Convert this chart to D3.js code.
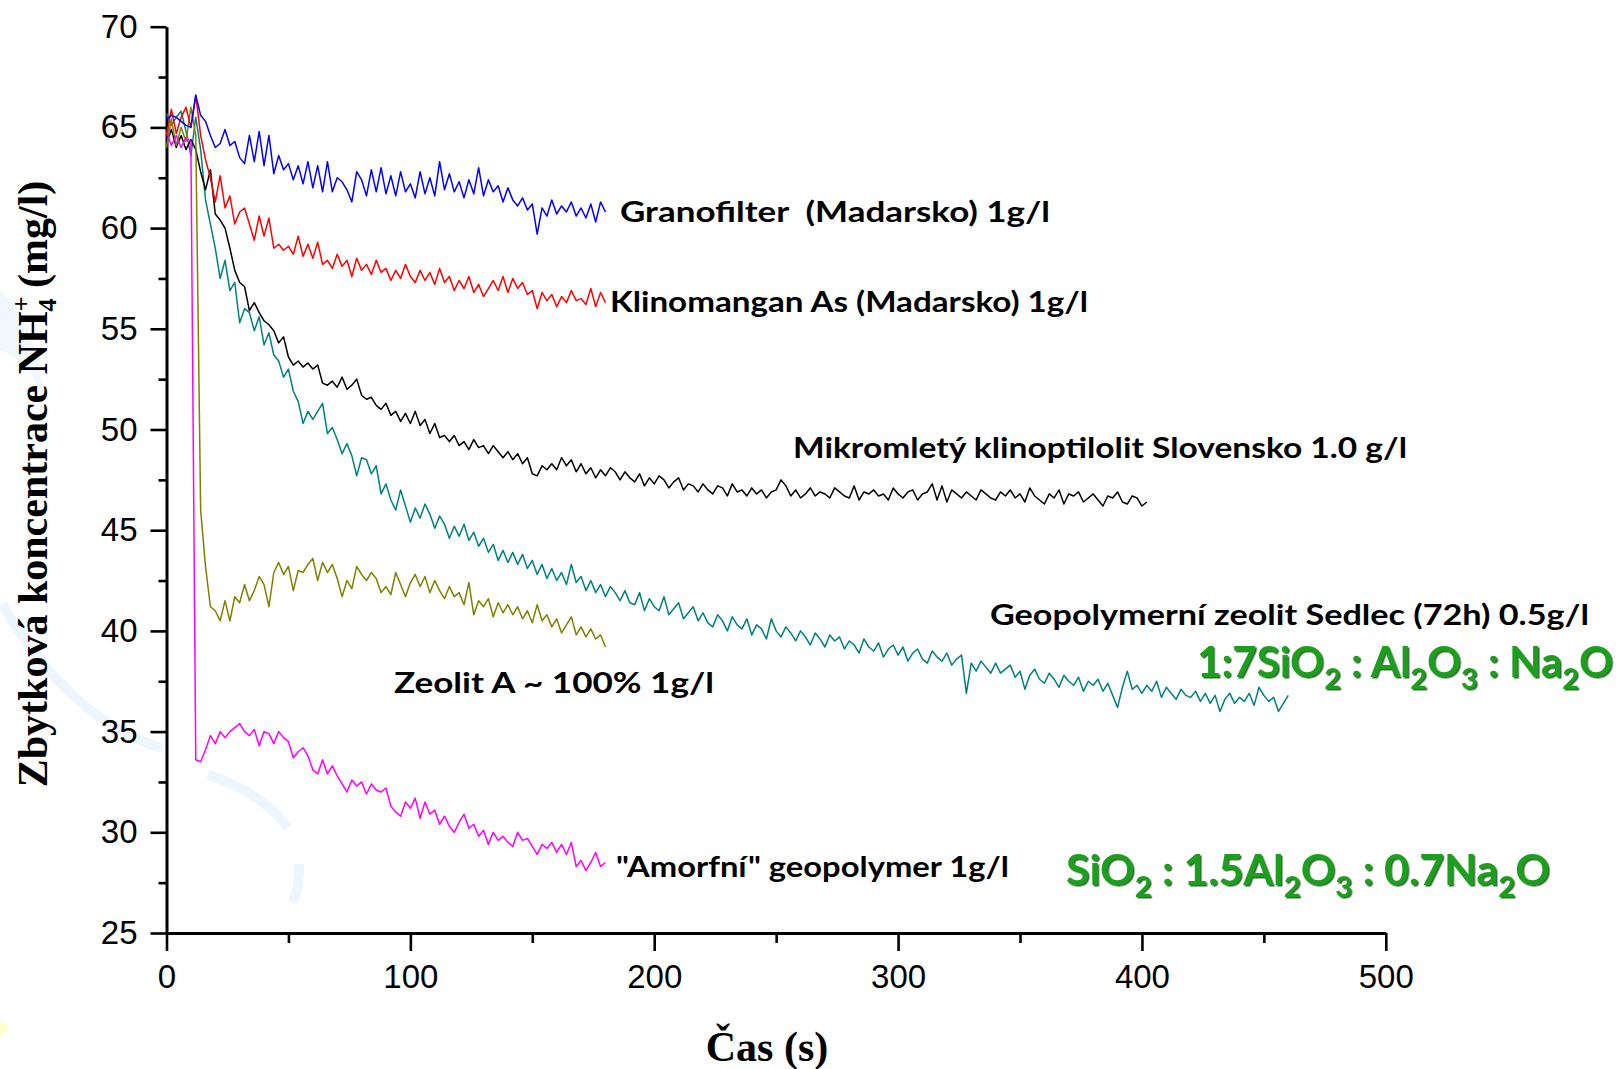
<!DOCTYPE html>
<html><head><meta charset="utf-8">
<script src="https://cdn.jsdelivr.net/npm/d3@7"></script>
<style>html,body{margin:0;padding:0;background:#fff;} svg{display:block}</style>
</head><body>
<svg id="chart" width="1623" height="1069"></svg>
<script>
// ---- data (time step 2 s) ----
const TIME_STEP = 2;
const granofilter = [
65.4,65.6,65.5,65.3,65.1,65.0,66.6,65.6,65.3,64.6,
64.0,64.2,64.9,64.1,64.3,63.5,63.2,64.6,63.3,64.8,
63.1,64.6,62.7,63.6,62.9,63.2,62.4,63.1,62.2,63.3,
62.0,63.1,61.8,63.3,61.8,62.5,62.3,61.9,61.3,62.8,
62.4,61.6,62.9,61.8,63.0,61.7,62.6,61.6,62.8,61.8,
62.2,61.5,62.8,61.7,62.5,61.6,63.3,61.9,62.7,61.8,
62.3,61.5,62.4,61.7,63.0,61.6,62.4,61.8,62.1,61.3,
62.0,61.4,61.1,61.5,60.9,61.2,59.7,61.0,60.6,61.4,
60.7,61.1,60.8,61.3,60.6,61.0,60.5,61.2,60.3,61.3,
60.8];
const klinomangan = [
64.6,65.9,64.7,65.5,66.0,65.0,66.6,64.6,63.4,62.5,
61.3,62.6,61.0,61.6,60.2,60.8,61.0,60.2,59.4,60.6,
59.6,60.5,59.0,59.2,58.9,59.1,58.7,59.6,58.6,59.2,
58.5,59.3,58.2,58.4,58.0,58.7,58.1,58.4,57.6,58.5,
57.9,58.2,57.7,58.4,57.8,58.0,57.4,57.9,57.5,58.2,
57.6,57.3,57.9,57.4,57.8,57.2,58.0,57.3,57.6,56.9,
57.4,57.0,57.6,56.8,57.2,56.6,57.0,57.4,56.9,57.6,
56.8,57.5,57.0,57.3,56.7,56.9,56.0,56.8,56.4,56.7,
56.1,56.6,56.3,56.9,56.4,56.5,56.2,57.0,56.1,56.8,
56.3];
const mikromlety = [
64.2,64.9,64.0,64.6,63.9,64.4,63.9,62.8,61.9,62.9,
60.7,60.4,60.0,59.0,57.9,57.3,57.1,55.9,56.3,55.8,
55.4,55.2,54.9,54.3,54.6,53.6,53.2,53.4,53.1,53.3,
53.0,53.2,52.3,52.2,52.4,52.1,52.6,52.0,52.2,52.5,
51.7,51.5,51.6,51.2,51.0,51.3,50.7,50.9,50.4,50.8,
50.3,50.9,50.2,50.5,49.8,50.3,49.6,49.7,49.4,49.7,
49.2,49.4,49.0,49.5,49.1,49.2,48.8,49.2,48.9,48.6,
48.9,48.5,48.8,48.3,48.6,47.8,47.7,48.2,48.0,48.3,
48.0,48.6,48.2,48.5,47.9,48.3,47.8,48.1,47.6,48.0,
47.7,48.1,47.9,47.5,47.9,47.6,47.4,47.8,47.2,47.6,
47.3,47.7,47.5,47.1,47.4,47.6,47.0,47.3,47.2,46.9,
47.3,47.0,46.8,47.2,47.1,46.7,47.3,46.9,47.0,46.7,
47.1,46.8,47.0,46.6,46.9,47.0,47.5,47.2,46.7,47.0,
46.6,46.8,47.1,46.7,46.9,46.8,46.6,47.1,46.9,46.7,
46.6,47.2,46.5,46.9,46.8,47.0,46.7,46.8,46.5,47.1,
46.8,46.6,46.9,47.0,46.5,46.8,46.9,47.3,46.5,47.2,
46.4,47.0,46.8,46.6,46.9,46.7,46.5,47.0,46.8,46.6,
46.5,46.9,46.7,47.0,46.6,46.8,46.4,47.1,46.7,46.5,
46.3,46.8,46.6,47.0,46.3,46.8,46.7,46.9,46.4,46.6,
46.8,46.5,46.2,46.7,46.6,46.9,46.4,46.3,46.7,46.6,
46.2,46.4];
const sedlec = [
65.7,65.1,65.5,65.8,64.8,63.6,65.5,63.9,61.4,60.2,
59.0,57.5,58.4,56.9,57.3,55.3,56.0,55.8,54.9,55.6,
54.2,54.8,53.7,53.4,52.6,53.0,51.9,51.4,50.3,50.9,
50.5,50.9,51.3,49.8,50.1,49.5,48.8,49.3,48.7,47.7,
48.6,48.5,47.8,48.2,46.8,47.3,46.5,46.0,47.0,46.2,
45.4,46.1,45.6,46.3,45.8,45.1,45.7,45.3,44.6,45.2,
44.7,45.3,44.5,44.9,44.2,44.6,43.9,44.3,43.5,44.0,
43.4,43.9,43.3,43.8,43.1,43.5,42.8,43.3,42.6,43.1,
42.5,42.9,42.3,43.3,42.4,42.7,42.0,42.5,41.9,42.3,
41.7,42.2,41.9,41.5,42.0,41.4,41.3,41.9,41.0,41.6,
41.2,41.0,41.7,40.8,41.1,41.4,40.6,40.9,41.2,40.5,
40.9,40.4,40.2,40.8,40.5,40.0,40.7,40.3,40.1,40.6,
39.8,40.3,40.1,39.6,40.6,40.0,39.7,40.2,39.9,39.5,
40.0,39.7,39.3,39.9,39.6,39.2,39.8,39.5,39.7,39.1,
39.5,39.3,38.9,39.6,39.2,39.0,39.4,38.7,39.1,39.3,
38.8,39.2,38.5,38.9,39.1,38.6,38.4,39.0,38.7,38.5,
38.9,38.3,38.6,38.8,36.9,38.4,38.0,38.5,38.2,37.9,
38.4,37.9,38.1,38.3,37.7,38.0,37.1,37.8,38.1,37.6,
37.4,37.9,37.6,37.2,37.8,37.5,37.3,37.7,37.0,37.5,
37.3,37.6,37.0,37.4,36.8,36.2,37.2,38.0,37.1,37.3,
36.9,37.3,37.0,37.5,36.7,37.2,36.9,36.6,37.1,36.8,
36.7,37.0,36.5,36.9,36.4,36.8,36.0,36.6,36.9,36.4,
36.7,36.5,36.9,36.3,37.2,36.8,36.5,36.7,36.0,36.4,
36.8];
const zeolitA = [
64.0,65.4,64.1,65.0,64.3,66.0,64.6,46.0,43.2,41.2,
41.0,40.5,41.5,40.5,41.7,41.4,42.3,41.5,42.0,42.7,
42.3,41.2,42.9,43.4,42.8,43.2,42.0,43.0,42.9,43.3,
43.6,42.5,43.4,42.9,43.3,42.6,41.7,42.5,42.1,43.2,
42.8,42.5,42.9,42.6,41.9,42.2,41.8,42.9,42.3,41.7,
42.4,42.8,42.2,42.7,41.9,42.5,42.0,41.6,42.2,41.7,
41.9,41.3,42.4,40.8,41.5,41.2,41.6,40.7,41.4,40.9,
41.3,40.8,41.2,40.6,41.0,40.4,41.3,40.5,40.8,40.2,
40.6,39.9,40.3,40.7,39.8,40.2,39.7,40.1,39.6,39.8,
39.2];
const amorfni = [
64.8,64.1,64.6,64.0,64.5,64.3,33.6,33.5,34.1,34.8,
34.4,35.0,34.7,35.0,35.2,35.4,35.0,34.8,35.1,34.3,
35.0,34.9,34.4,35.0,34.7,34.5,33.7,34.0,34.2,33.8,
33.1,32.9,33.6,32.9,33.3,32.8,32.4,32.0,32.6,32.3,
32.5,31.9,32.4,32.1,32.0,32.2,31.3,31.0,30.8,31.5,
31.2,31.7,30.7,31.5,30.9,31.1,30.4,30.8,30.3,30.0,
30.5,30.9,30.2,30.4,29.8,30.1,29.4,30.0,29.6,29.8,
29.5,29.3,30.0,29.6,29.7,29.3,28.9,29.4,29.2,29.5,
29.0,29.4,28.9,29.5,28.3,28.6,28.1,28.5,29.0,28.3,
28.5];

const seriesNames = [
  "Granofilter  (Madarsko) 1g/l",
  "Klinomangan As (Madarsko) 1g/l",
  "Mikromletý klinoptilolit Slovensko 1.0 g/l",
  "Geopolymerní zeolit Sedlec (72h) 0.5g/l",
  "Zeolit A ~ 100% 1g/l",
  "\"Amorfní\" geopolymer 1g/l"
];
const seriesColors = ["#0000ff","#ff0000","#000000","#008080","#808000","#ff00ff"];
const seriesValues = [granofilter, klinomangan, mikromlety, sedlec, zeolitA, amorfni];

const yTicks = [25,30,35,40,45,50,55,60,65,70];
const yMinorTicks = [27.5,32.5,37.5,42.5,47.5,52.5,57.5,62.5,67.5];
const xTicks = [0,100,200,300,400,500];
const xMinorTicks = [50,150,250,350,450];
const yTitle = ["Zbytková koncentrace NH", "+", "4", " (mg/l)"];
const xTitle = "Čas (s)";
const ratio1 = [["1:7SiO",0],["2",1],[" : Al",0],["2",1],["O",0],["3",1],[" : Na",0],["2",1],["O",0]];
const ratio2 = [["SiO",0],["2",1],[" : 1.5Al",0],["2",1],["O",0],["3",1],[" : 0.7Na",0],["2",1],["O",0]];

// ---- drawing ----
const svg = d3.select("#chart");
const x = d3.scaleLinear().domain([0,500]).range([166.5,1385.8]);
const y = d3.scaleLinear().domain([25,70]).range([933,26.7]);

// faint template decoration
const deco = svg.append("g").attr("fill","none").attr("stroke","#edf6fe").attr("stroke-width",10).attr("stroke-linecap","butt");
deco.append("path").attr("d","M2,604 Q70,720 162,748");
deco.append("path").attr("d","M208,775 Q262,792 288,828");
deco.append("path").attr("d","M299,864 Q300,884 293,902");
svg.append("path").attr("d","M0,290 Q38,325 44,400 Q30,360 0,350 Z").attr("fill","#f0f8fe");
svg.append("path").attr("d","M0,1021 L9,1026 L0,1038 Z").attr("fill","#ffffcc");

// minor ticks
const yMinor = svg.append("g").attr("transform",`translate(${x(0)},0)`)
  .call(d3.axisLeft(y).tickValues(yMinorTicks).tickSize(8).tickFormat(""));
const xMinor = svg.append("g").attr("transform",`translate(0,${y(25)})`)
  .call(d3.axisBottom(x).tickValues(xMinorTicks).tickSize(10).tickFormat(""));
[yMinor,xMinor].forEach(g=>{g.select(".domain").remove(); g.selectAll("line").attr("stroke","#000").attr("stroke-width",2.6);});

const yAx = svg.append("g").attr("transform",`translate(${x(0)},0)`)
  .call(d3.axisLeft(y).tickValues(yTicks).tickSize(16).tickSizeOuter(0).tickPadding(13).tickFormat(d3.format("d")));
const xAx = svg.append("g").attr("transform",`translate(0,${y(25)})`)
  .call(d3.axisBottom(x).tickValues(xTicks).tickSize(18).tickSizeOuter(0).tickPadding(14).tickFormat(d3.format("d")));
[yAx,xAx].forEach(g=>{
  g.select(".domain").attr("stroke","#000").attr("stroke-width",3);
  g.selectAll("line").attr("stroke","#000").attr("stroke-width",2.6);
  g.selectAll("text").attr("font-family","'Liberation Sans', Arial, sans-serif").attr("font-size",33).attr("fill","#000");
});

// series
const line = d3.line().x((d,i)=>x(i*TIME_STEP)).y(d=>y(d));
const drawOrder = [3,2,4,5,1,0];
drawOrder.forEach(k=>{
  svg.append("path").datum(seriesValues[k]).attr("d",line)
    .attr("fill","none").attr("stroke",seriesColors[k]).attr("stroke-width",1.5)
    .attr("stroke-linejoin","round");
});

// series labels
const labelFont = "Lato, 'DejaVu Sans', sans-serif";
const labelLayout = [[620,222,430],[610,312,478],[793,458,614],[990,625,599],[394,693,320],[616,877,393]];
seriesNames.forEach((name,i)=>{
  const [lx,ly,lw] = labelLayout[i];
  svg.append("text").attr("x",lx).attr("y",ly).text(name)
    .attr("font-family",labelFont).attr("font-weight",700).attr("font-size",29)
    .attr("fill","#000").style("white-space","pre")
    .attr("textLength",lw).attr("lengthAdjust","spacingAndGlyphs");
});

// green ratio labels
const defs = svg.append("defs");
const f = defs.append("filter").attr("id","sh").attr("x","-5%").attr("y","-20%").attr("width","110%").attr("height","140%");
f.append("feDropShadow").attr("dx",1.5).attr("dy",1.5).attr("stdDeviation",0.6).attr("flood-color","#0a4f0a").attr("flood-opacity",0.85);
function ratioText(segs, px, py, size, w){
  const t = svg.append("text").attr("x",px).attr("y",py)
    .attr("font-family",labelFont).attr("font-weight",700).attr("font-size",size)
    .attr("fill","#1f9f1f").attr("filter","url(#sh)").style("white-space","pre");
  let sub = false;
  segs.forEach(([s,isSub])=>{
    const sp = t.append("tspan").text(s);
    if(isSub && !sub){ sp.attr("dy",size*0.28).attr("font-size",size*0.68); sub=true; }
    else if(isSub){ sp.attr("font-size",size*0.68); }
    else if(!isSub && sub){ sp.attr("dy",-size*0.28); sub=false; }
  });
  const len = t.node().getComputedTextLength();
  if(len>0) t.attr("font-size",size*w/len).selectAll("tspan").each(function(){
    const s=d3.select(this); if(s.attr("font-size")) s.attr("font-size",size*w/len*0.68);
    if(s.attr("dy")) s.attr("dy",(+s.attr("dy"))*w/len);
  });
}
ratioText(ratio1, 1197, 677, 34, 416);
ratioText(ratio2, 1066, 885, 34, 484);

// axis titles
const yt = svg.append("text").attr("transform","translate(47,484) rotate(-90)")
  .attr("text-anchor","middle").attr("font-family","'Liberation Serif','Times New Roman',serif")
  .attr("font-weight",700).attr("font-size",42).attr("fill","#000");
yt.append("tspan").text(yTitle[0]);
yt.append("tspan").text(yTitle[1]).attr("font-size",26).attr("dy",-17);
const plusW = 15;
yt.append("tspan").text(yTitle[2]).attr("font-size",26).attr("dx",-plusW).attr("dy",26);
yt.append("tspan").text(yTitle[3]).attr("dy",-9);

svg.append("text").attr("x",767).attr("y",1061).attr("text-anchor","middle")
  .attr("font-family","'Liberation Serif','Times New Roman',serif").attr("font-weight",700)
  .attr("font-size",42).attr("fill","#000").text(xTitle);
</script>
</body></html>
